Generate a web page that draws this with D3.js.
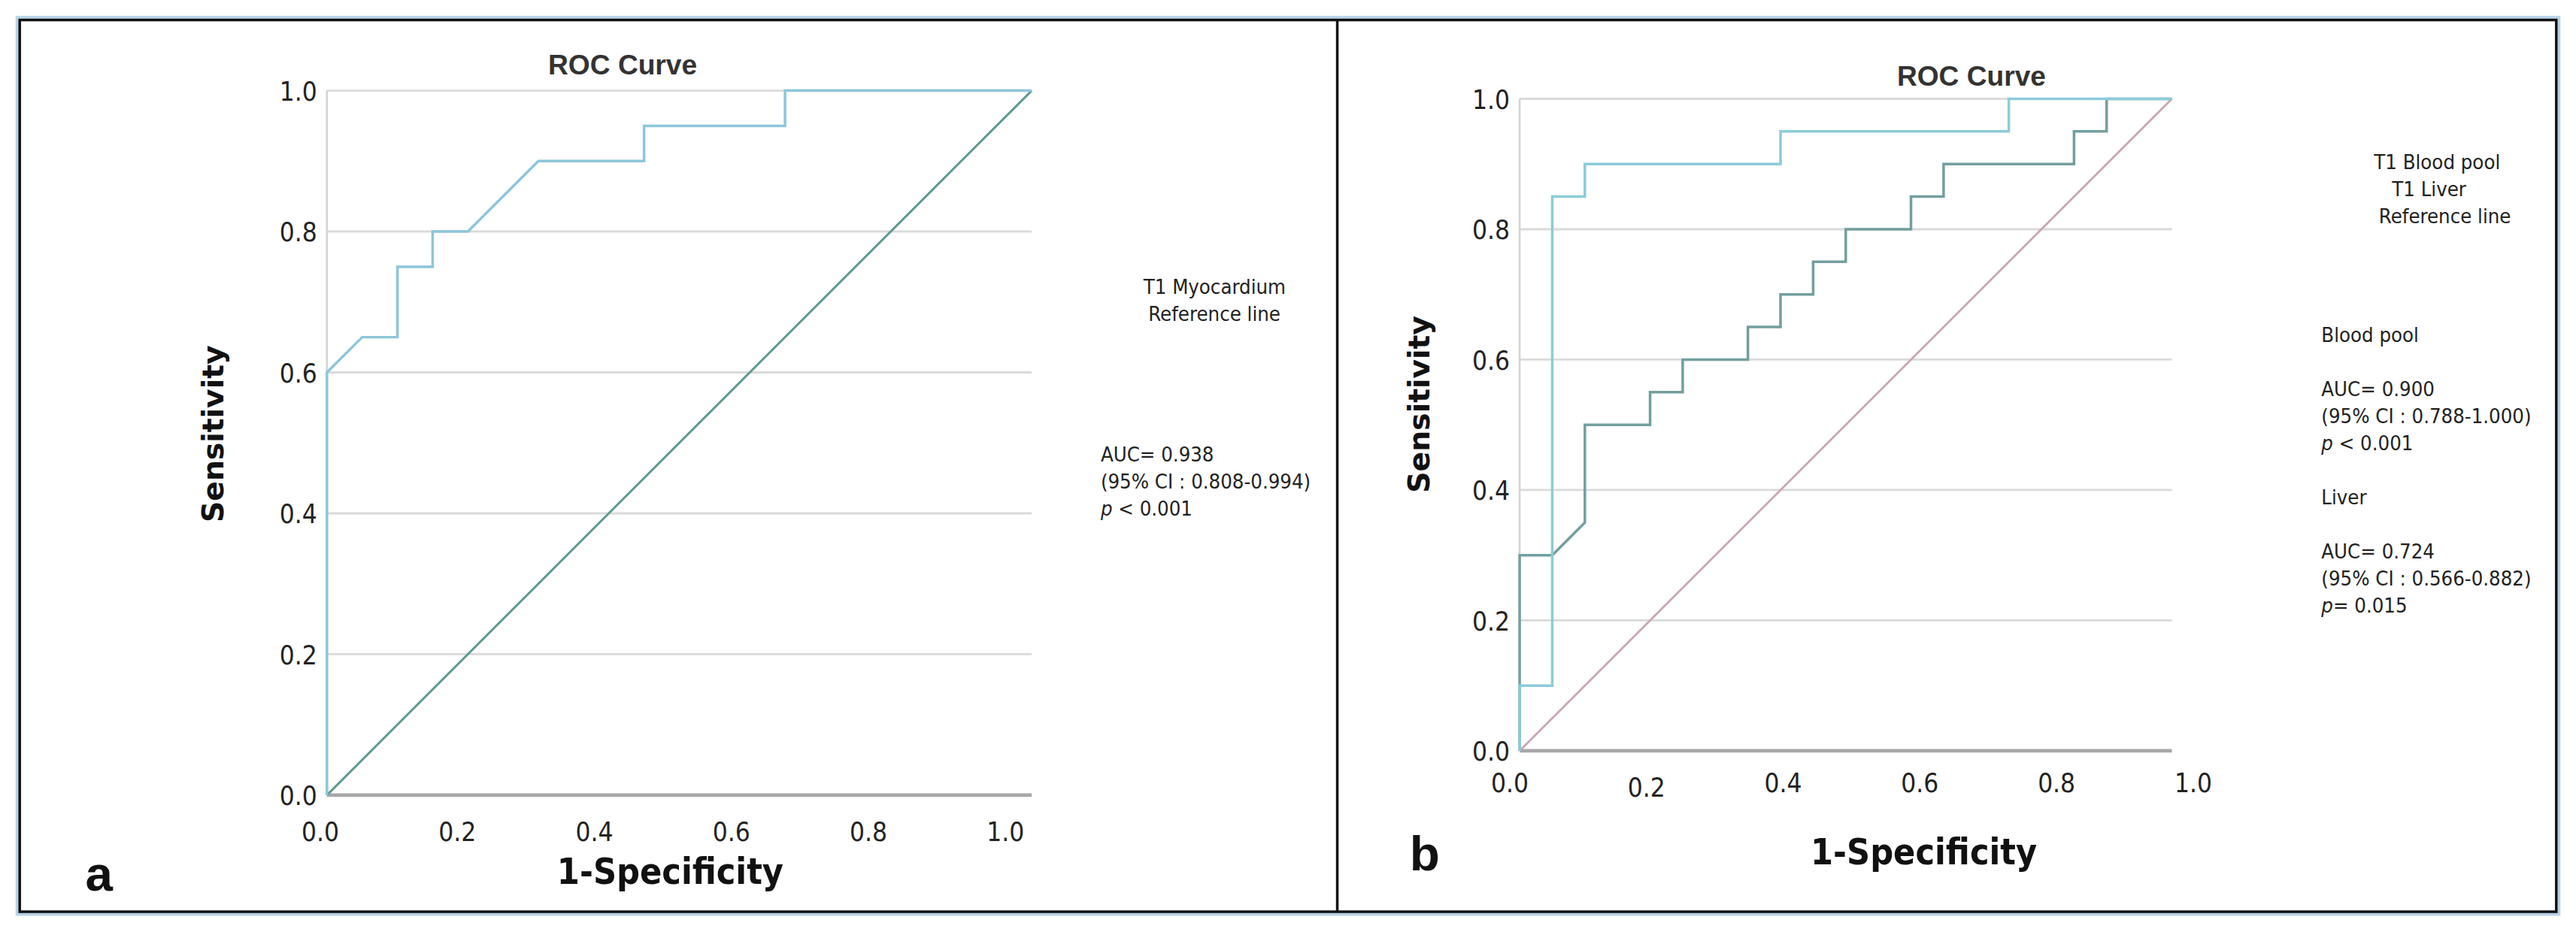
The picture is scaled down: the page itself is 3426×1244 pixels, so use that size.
<!DOCTYPE html>
<html>
<head>
<meta charset="utf-8">
<script src="https://cdn.jsdelivr.net/npm/d3@7"></script>
<style>
  html, body { margin: 0; padding: 0; background: #fff; }
  svg { display: block; }
</style>
</head>
<body>
<div id="chart"></div>
<script>
// ---- data ----
const ticks = [0, 0.2, 0.4, 0.6, 0.8, 1.0];

const myocardium = [
  [0, 0], [0, 0.6], [0.05, 0.65], [0.1, 0.65], [0.1, 0.75], [0.15, 0.75], [0.15, 0.8],
  [0.2, 0.8], [0.3, 0.9], [0.45, 0.9], [0.45, 0.95], [0.65, 0.95], [0.65, 1], [1, 1]
];
const bloodPool = [
  [0, 0], [0, 0.1], [0.05, 0.1], [0.05, 0.85], [0.1, 0.85], [0.1, 0.9], [0.4, 0.9],
  [0.4, 0.95], [0.75, 0.95], [0.75, 1], [1, 1]
];
const liver = [
  [0, 0], [0, 0.3], [0.05, 0.3], [0.1, 0.35], [0.1, 0.5], [0.2, 0.5], [0.2, 0.55],
  [0.25, 0.55], [0.25, 0.6], [0.35, 0.6], [0.35, 0.65], [0.4, 0.65], [0.4, 0.7],
  [0.45, 0.7], [0.45, 0.75], [0.5, 0.75], [0.5, 0.8], [0.6, 0.8], [0.6, 0.85],
  [0.65, 0.85], [0.65, 0.9], [0.85, 0.9], [0.85, 0.95], [0.9, 0.95], [0.9, 1], [1, 1]
];
const reference = [[0, 0], [1, 1]];

const legendA = ["T1 Myocardium", "Reference line"];
const statsA = ["AUC= 0.938", "(95% CI : 0.808-0.994)", "p < 0.001"];
const legendB = ["T1 Blood pool", "T1 Liver", "Reference line"];
const statsB = ["Blood pool", "", "AUC= 0.900", "(95% CI : 0.788-1.000)", "p < 0.001", "",
                "Liver", "", "AUC= 0.724", "(95% CI : 0.566-0.882)", "p= 0.015"];

// ---- drawing (viewBox is the reference scaled down 2.185x) ----
const W = 1568, H = 569;
const svg = d3.select("#chart").append("svg")
  .attr("width", 3426).attr("height", 1244)
  .attr("viewBox", `0 0 ${W} ${H}`);

const narrow = "'DejaVu Sans Condensed', 'Liberation Sans Narrow', sans-serif";

// outer frame
svg.append("rect").attr("x", 11).attr("y", 11).attr("width", 1546).attr("height", 545)
  .attr("fill", "none").attr("stroke", "#b9d3e6").attr("stroke-width", 3);
svg.append("rect").attr("x", 12).attr("y", 12).attr("width", 1544).attr("height", 543)
  .attr("fill", "#fff").attr("stroke", "#111").attr("stroke-width", 1.6);
svg.append("line").attr("x1", 814).attr("x2", 814).attr("y1", 12).attr("y2", 555)
  .attr("stroke", "#111").attr("stroke-width", 1.6);

function panel(o) {
  const g = svg.append("g");
  const x = d3.scaleLinear().domain([0, 1]).range(o.xr);
  const y = d3.scaleLinear().domain([0, 1]).range(o.yr);
  const xl = d3.scaleLinear().domain([0, 1]).range(o.xlab);

  // grid lines
  g.append("g").selectAll("line").data(ticks.slice(1)).join("line")
    .attr("x1", x(0)).attr("x2", x(1))
    .attr("y1", d => y(d)).attr("y2", d => y(d))
    .attr("stroke", "#dadada").attr("stroke-width", 1.3);
  // left axis and base line
  g.append("line").attr("x1", x(0)).attr("x2", x(0)).attr("y1", y(0)).attr("y2", y(1))
    .attr("stroke", "#d4d4d4").attr("stroke-width", 1.2);
  g.append("line").attr("x1", x(0)).attr("x2", x(1)).attr("y1", y(0)).attr("y2", y(0))
    .attr("stroke", "#a8a8a8").attr("stroke-width", 2.2);

  // y tick labels
  g.append("g").selectAll("text").data(ticks).join("text")
    .attr("x", x(0) - 6).attr("y", d => y(d) + 6)
    .attr("text-anchor", "end")
    .attr("font-family", narrow).attr("font-size", 16).attr("fill", "#222")
    .text(d => d.toFixed(1));
  // x tick labels (shifted from the grid, as in the picture)
  g.append("g").selectAll("text").data(ticks).join("text")
    .attr("x", d => xl(d)).attr("y", (d, i) => o.xly + (o.lowTwo && i === 1 ? 3 : 0))
    .attr("text-anchor", "middle")
    .attr("font-family", narrow).attr("font-size", 16).attr("fill", "#222")
    .text(d => d.toFixed(1));

  const line = d3.line().x(d => x(d[0])).y(d => y(d[1]));
  o.series.forEach(s => {
    g.append("path").datum(s.data)
      .attr("fill", "none").attr("stroke", s.color).attr("stroke-width", s.w || 1.5)
      .attr("d", line);
  });

  // titles
  g.append("text").attr("x", o.titleX).attr("y", o.titleY).attr("text-anchor", "middle")
    .attr("font-family", "'Liberation Sans', Arial, sans-serif").attr("font-weight", "bold")
    .attr("font-size", 17).attr("fill", "#333").text("ROC Curve");
  g.append("text")
    .attr("transform", `translate(${o.sensX},${o.sensY}) rotate(-90)`)
    .attr("text-anchor", "middle")
    .attr("font-family", "'DejaVu Sans', Verdana, sans-serif").attr("font-weight", "bold")
    .attr("font-size", 18).attr("fill", "#111").text("Sensitivity");
  g.append("text").attr("x", o.specX).attr("y", o.specY).attr("text-anchor", "middle")
    .attr("font-family", narrow).attr("font-weight", "bold")
    .attr("font-size", 22).attr("fill", "#111").text("1-Specificity");
  g.append("text").attr("x", o.letterX).attr("y", o.letterY)
    .attr("font-family", "'Liberation Sans', Arial, sans-serif").attr("font-weight", "bold")
    .attr("font-size", 30).attr("fill", "#111").text(o.letter);

  // legend and stats text
  o.legend.forEach((t, i) => {
    g.append("text").attr("x", o.legX[i]).attr("y", o.legY + i * 16.3)
      .attr("font-family", narrow).attr("font-size", 12.5).attr("fill", "#222").text(t);
  });
  o.stats.forEach((t, i) => {
    if (!t) return;
    const el = g.append("text").attr("x", o.statX).attr("y", o.statY + i * 16.5)
      .attr("font-family", narrow).attr("font-size", 12.5).attr("fill", "#222");
    if (t.startsWith("p")) {
      el.append("tspan").attr("font-style", "italic").text("p");
      el.append("tspan").text(t.slice(1));
    } else el.text(t);
  });
}

panel({
  xr: [199, 628], yr: [484, 55], xlab: [195, 612], xly: 512,
  series: [
    { data: reference, color: "#5f9a92", w: 1.4 },
    { data: myocardium, color: "#8cc6da", w: 1.6 }
  ],
  titleX: 379, titleY: 45, sensX: 136, sensY: 264,
  specX: 408, specY: 538, letter: "a", letterX: 52, letterY: 542,
  legend: legendA, legX: [696, 699], legY: 179,
  stats: statsA, statX: 670, statY: 281
});

panel({
  xr: [925, 1322], yr: [457, 60], xlab: [919, 1335], xly: 482, lowTwo: true,
  series: [
    { data: reference, color: "#cba6ae", w: 1.3 },
    { data: liver, color: "#739e9e", w: 1.6 },
    { data: bloodPool, color: "#8ccbda", w: 1.6 }
  ],
  titleX: 1200, titleY: 52, sensX: 870, sensY: 246,
  specX: 1171, specY: 526, letter: "b", letterX: 858, letterY: 530,
  legend: legendB, legX: [1445, 1456, 1448], legY: 103,
  stats: statsB, statX: 1413, statY: 208
});
</script>
</body>
</html>
